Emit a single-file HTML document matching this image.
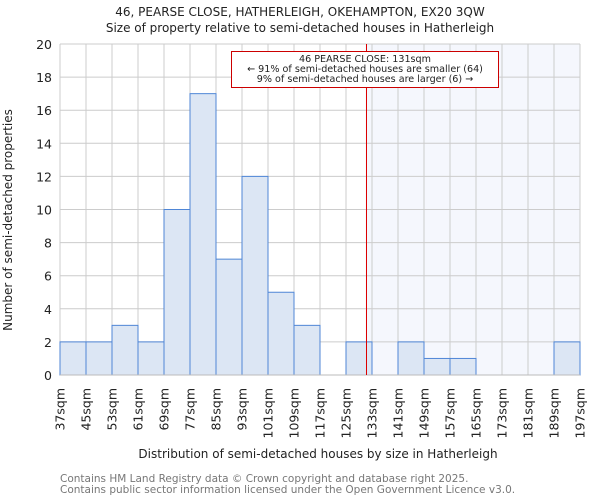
<!DOCTYPE html>
<html><head><meta charset="utf-8"><style>
body{margin:0;background:#fff;}
svg{display:block;font-family:"DejaVu Sans","Liberation Sans",sans-serif;}
</style></head><body>
<svg id="chart" width="600" height="500">
<text x="300" y="16" text-anchor="middle" font-size="12" fill="#222">46, PEARSE CLOSE, HATHERLEIGH, OKEHAMPTON, EX20 3QW</text>
<text x="300" y="32" text-anchor="middle" font-size="12" fill="#222">Size of property relative to semi-detached houses in Hatherleigh</text>
<g id="plot"></g>
<text x="318" y="458" text-anchor="middle" font-size="12" fill="#222">Distribution of semi-detached houses by size in Hatherleigh</text>
<text transform="translate(12,220) rotate(-90)" text-anchor="middle" font-size="12" fill="#222">Number of semi-detached properties</text>
<text x="60" y="482" font-size="10.5" fill="#777">Contains HM Land Registry data © Crown copyright and database right 2025.</text>
<text x="60" y="493" font-size="10.5" fill="#777">Contains public sector information licensed under the Open Government Licence v3.0.</text>
</svg>
<script>
const binStarts=[37,45,53,61,69,77,85,93,101,109,117,125,133,141,149,157,165,173,181,189];
const counts=[2,2,3,2,10,17,7,12,5,3,0,2,0,2,1,1,0,0,0,2];
const tickLabels=["37sqm","45sqm","53sqm","61sqm","69sqm","77sqm","85sqm","93sqm","101sqm","109sqm","117sqm","125sqm","133sqm","141sqm","149sqm","157sqm","165sqm","173sqm","181sqm","189sqm","197sqm"];
const yTicks=[0,2,4,6,8,10,12,14,16,18,20];
const propertySize=131;
const annotationLines=["46 PEARSE CLOSE: 131sqm","← 91% of semi-detached houses are smaller (64)","9% of semi-detached houses are larger (6) →"];

const X0=60,X1=580,Y0=375,Y1=44,xMin=37,xMax=197,yMax=20;
const xs=v=>X0+(v-xMin)/(xMax-xMin)*(X1-X0);
const ys=v=>Y0-v/yMax*(Y0-Y1);
const NS="http://www.w3.org/2000/svg";
const g=document.getElementById('plot');
function mk(t,a){const e=document.createElementNS(NS,t);for(const k in a)e.setAttribute(k,a[k]);g.appendChild(e);return e;}

const sh=mk('rect',{x:xs(propertySize),y:Y1,width:X1-xs(propertySize),height:Y0-Y1,fill:'#f5f7fd'});


for(const t of yTicks){
 const l=mk('line',{x1:X0,x2:X1,y1:ys(t),y2:ys(t),stroke:'#ccc','stroke-width':1});
 
 
 const tx=mk('text',{x:X0-8,y:ys(t)+5,'text-anchor':'end','font-size':12.5,fill:'#222'});
 tx.textContent=t;
 
 
}
tickLabels.forEach((lab,i)=>{
 const v=xMin+i*8;
 const l=mk('line',{x1:xs(v),x2:xs(v),y1:Y1,y2:Y0,stroke:'#ccc','stroke-width':1});
 
 
 const tx=mk('text',{transform:`translate(${xs(v)+4.5},388) rotate(-90)`,'text-anchor':'end','font-size':12.5,fill:'#222'});
 tx.textContent=lab;
 
 
});
binStarts.forEach((b,i)=>{
 if(!counts[i])return;
 const r=mk('rect',{x:xs(b),y:ys(counts[i]),width:xs(b+8)-xs(b),height:Y0-ys(counts[i]),fill:'#dce6f4',stroke:'#4f86d6','stroke-width':1});
 
 
});
const ax=mk('line',{x1:X0,x2:X1,y1:Y0,y2:Y0,stroke:'#bbb'});


const rl=mk('line',{x1:Math.round(xs(propertySize))+0.5,x2:Math.round(xs(propertySize))+0.5,y1:Y1,y2:Y0,stroke:'#dd0000','stroke-width':1});


const box=mk('rect',{x:231.5,y:51.5,width:267,height:36,fill:'#fff',stroke:'#cc0000','stroke-width':1});


annotationLines.forEach((s,i)=>{
 const t=mk('text',{x:365,y:62+i*10,'text-anchor':'middle','font-size':9.6,fill:'#222'});
 t.textContent=s;
 
 
});
</script>
</body></html>
